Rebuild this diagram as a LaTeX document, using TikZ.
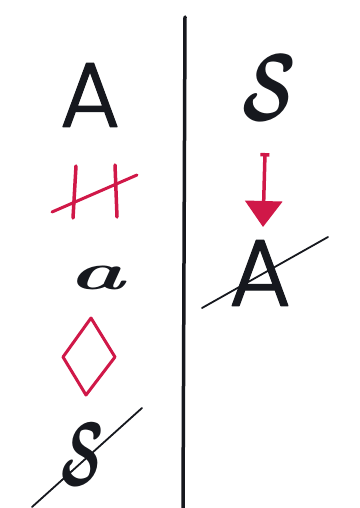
\documentclass[tikz,border=0pt]{standalone}
\usepackage{fontspec}
\usepackage{graphicx}
\usepackage{bm}
\usetikzlibrary{arrows.meta}
\newfontfamily\handsans{Poppins Light}[FakeBold=1.2]
\definecolor{inkred}{RGB}{208,24,72}
\definecolor{ink}{RGB}{22,24,30}

\begin{document}
\begin{tikzpicture}[x=1pt, y=-1pt, line cap=round, line join=round,
    letter/.style={inner sep=0pt, text=ink},
    strike/.style={ink, line width=1.8pt},
    redpen/.style={inkred, line width=3pt}]
    \useasboundingbox[fill=white] (0,0) rectangle (359,508);

    \draw[ink, line width=3.5pt] (185,17) -- (183,508);

    \node[letter] (leftA) at (90,95) {\scalebox{9.2}{\handsans A}};

    \draw[redpen, line width=3.5pt] (76,166) -- (73,218);
    \draw[redpen, line width=3.5pt] (115,165) -- (117,217);
    \draw[redpen] (52,212) -- (137,175);

    \node[letter] (smalla) at (97,278) {\scalebox{9.5}[5.2]{\bfseries\itshape a}};

    \draw[redpen] (91,318) -- (115,357) -- (86,395) -- (63,357) -- cycle;

    \node[letter] (leftS) at (83,455) {\scalebox{5.5}[9]{$\bm{\mathcal{S}}$}};
    \draw[strike] (32,507) -- (142,408);

    \node[letter] (rightS) at (269,88) {\scalebox{7}[9.5]{$\bm{\mathcal{S}}$}};

    \coordinate (arrtop) at (265,153);
    \coordinate (arrtip) at (263,227);
    \draw[redpen, line width=3.5pt, {Bar[width=9pt]}-{Triangle[width=37pt, length=26pt]}] (arrtop) -- (arrtip);

    \node[letter] (rightA) at (260,273) {\scalebox{9.5}{\handsans A}};
    \draw[strike] (202,308) -- (328,237);
\end{tikzpicture}
\end{document}
